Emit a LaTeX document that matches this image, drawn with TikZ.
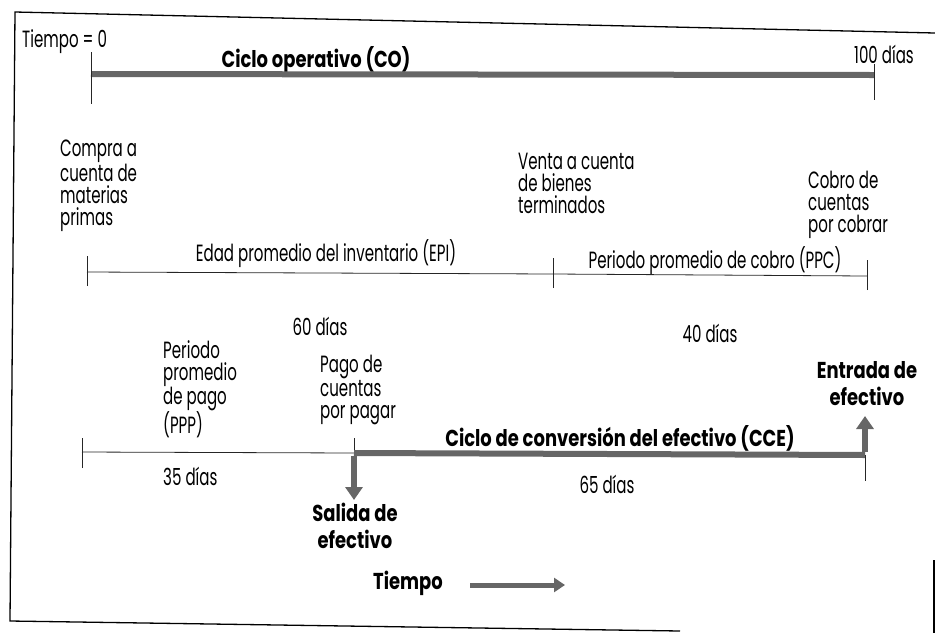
\documentclass[tikz,border=0pt]{standalone}
\usepackage{fontspec}
\setmainfont{Poppins}[FakeStretch=0.64, BoldFeatures={FakeStretch=0.78}]
\usetikzlibrary{arrows.meta}
\begin{document}
\begin{tikzpicture}[x=1pt,y=-1pt,
  lbl/.style={inner sep=0pt, font=\fontsize{23.5}{22}\selectfont, align=left},
  lblc/.style={inner sep=0pt, font=\fontsize{23.5}{22}\selectfont, align=center},
  lblb/.style={inner sep=0pt, font=\fontsize{23}{27}\selectfont\bfseries, align=center},
  thinline/.style={line width=0.8pt, draw=black!85},
  bar/.style={line width=6pt, draw=black!60},
  fatarrow/.style={line width=6.5pt, draw=black!60, -{Triangle[width=17pt,length=13pt]}},
  framel/.style={line width=1.3pt, draw=black}]
\useasboundingbox (0,0) rectangle (935,633);
% frame
\coordinate (f1) at (935,33);
\coordinate (f2) at (15,12);
\coordinate (f3) at (10,621);
\coordinate (f4) at (680,631);
\coordinate (f5) at (934,560);
\coordinate (f6) at (934,633);
\draw[framel] (f1) -- (f2) -- (f3) -- (f4);
\draw[framel] (f5) -- (f6);

% operating cycle
\node[lbl, anchor=base west] (t0) at (22,47) {Tiempo = 0};
\node[lblb, anchor=base] (co) at (316,67) {Ciclo operativo (CO)};
\node[lbl, anchor=base east] (d100) at (914,63) {100 días};
\coordinate (co0) at (91,74);
\coordinate (co1) at (874,75);
\coordinate (co0t) at (91,52);
\coordinate (co0b) at (91,104);
\coordinate (co1t) at (874,64);
\coordinate (co1b) at (874,100);
\draw[bar] (co0) -- (co1);
\draw[thinline] (co0t) -- (co0b);
\draw[thinline] (co1t) -- (co1b);

% events
\node[lbl, anchor=north west] (compra) at (60,140) {Compra a\\cuenta de\\materias\\primas};
\node[lbl, anchor=north west] (venta) at (518,153) {Venta a cuenta\\de bienes\\terminados};
\node[lbl, anchor=north west] (cobro) at (808,171) {Cobro de\\cuentas\\por cobrar};

% EPI / PPC line
\node[lblc, anchor=base] (epi) at (326,261) {Edad promedio del inventario (EPI)};
\node[lblc, anchor=base] (ppc) at (715,268) {Periodo promedio de cobro (PPC)};
\coordinate (l2a) at (87,272);
\coordinate (l2b) at (553,274);
\coordinate (l2c) at (867,276);
\draw[thinline] (l2a) -- (l2b) -- (l2c);
\draw[thinline] ([yshift=-14]l2a) -- ([yshift=16]l2a);
\draw[thinline] ([yshift=-14]l2b) -- ([yshift=16]l2b);
\draw[thinline] ([yshift=-14]l2c) -- ([yshift=16]l2c);
\node[lblc, anchor=base] (d60) at (320,335) {60 días};
\node[lblc, anchor=base] (d40) at (710,342) {40 días};

% PPP / CCE line
\node[lbl, anchor=north west] (ppp) at (163,340) {Periodo\\promedio\\de pago\\(PPP)};
\node[lbl, anchor=north west] (pago) at (320,355) {Pago de\\cuentas\\por pagar};
\coordinate (l3a) at (82,452);
\coordinate (l3b) at (354,453);
\coordinate (l3c) at (865,455);
\coordinate (l3bt) at (354,438);
\coordinate (l3bd) at (354,500);
\coordinate (l3cu) at (865,416);
\coordinate (l3cb) at (865,481);
\draw[thinline] (l3a) -- (l3b);
\draw[thinline] ([yshift=-16]l3a) -- ([yshift=14]l3a);
\draw[thinline] (l3bt) -- (l3b);
\draw[thinline] (l3c) -- (l3cb);
\draw[bar] (l3b) -- (l3c);
\draw[fatarrow] ([yshift=-3]l3b) -- (l3bd);
\draw[fatarrow] ([yshift=3]l3c) -- (l3cu);
\node[lbl, anchor=base west] (d35) at (163,485) {35 días};
\node[lblb, anchor=base] (cce) at (620,446) {Ciclo de conversión del efectivo (CCE)};
\node[lblc, anchor=base] (d65) at (607,493) {65 días};
\node[lblb, anchor=north] (entrada) at (867,361) {Entrada de\\efectivo};
\node[lblb, anchor=north] (salida) at (355,503) {Salida de\\efectivo};

% time arrow
\node[lblb, anchor=base west] (tiempo) at (373,589) {Tiempo};
\coordinate (ta) at (470,585);
\coordinate (tb) at (565,585);
\draw[fatarrow, line width=5pt, -{Triangle[width=14pt,length=11pt]}] (ta) -- (tb);
\end{tikzpicture}
\end{document}
